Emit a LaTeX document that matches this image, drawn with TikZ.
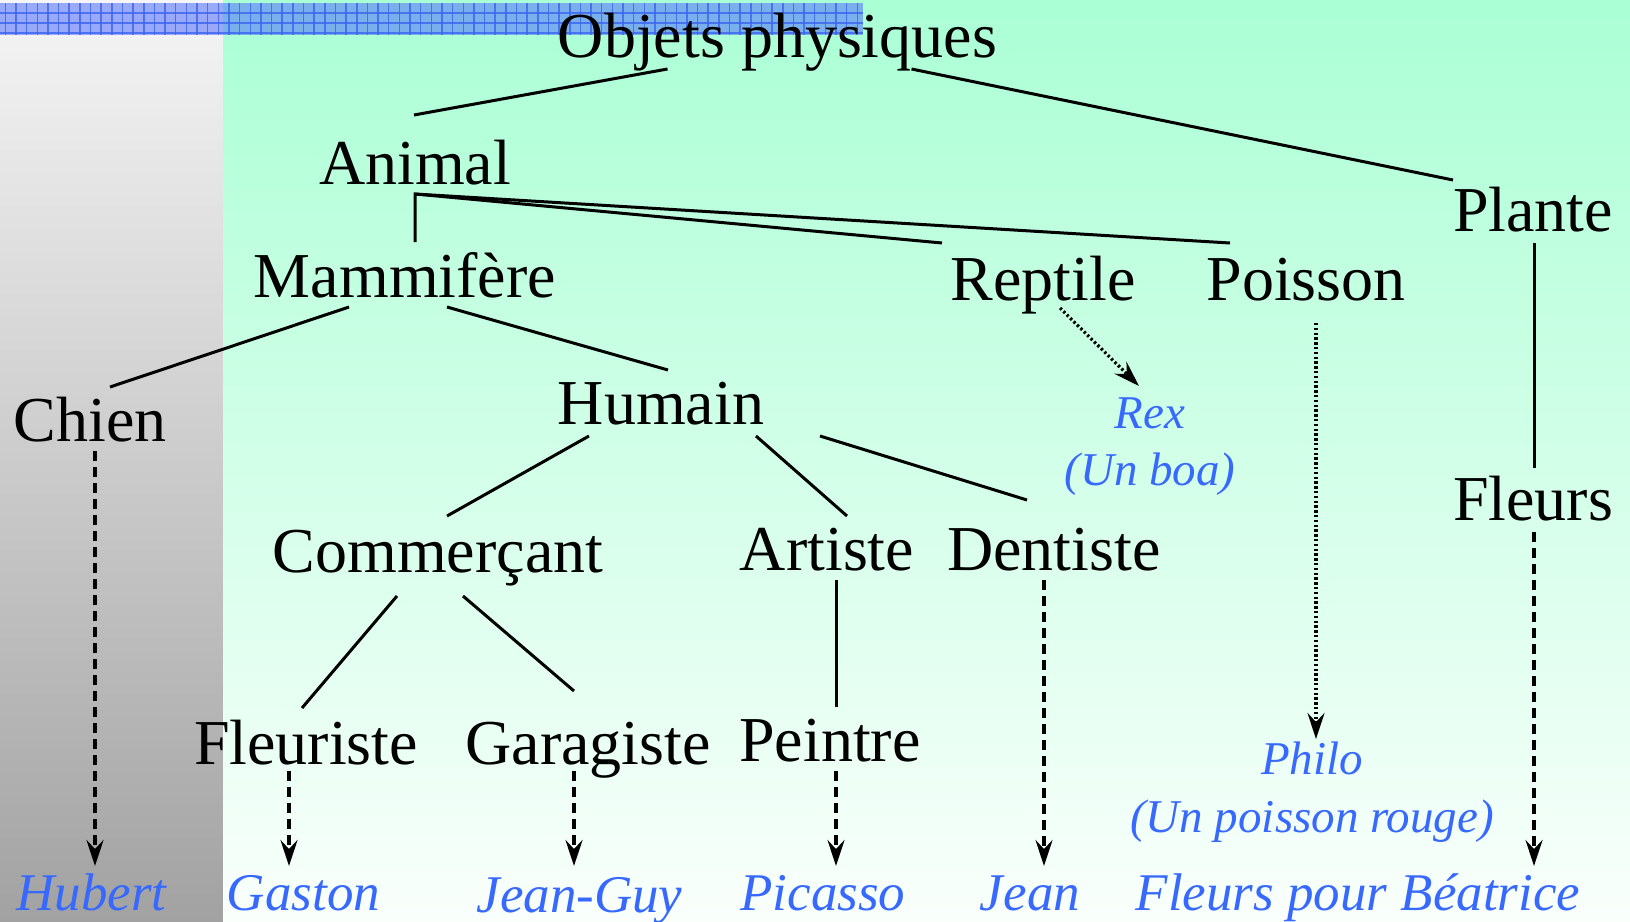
\documentclass[tikz,border=0pt]{standalone}
\usepackage{fontspec}
\setmainfont{Liberation Serif}[ItalicFont={Liberation Serif Italic}]
\usetikzlibrary{arrows.meta}
\definecolor{nameblue}{RGB}{55,105,255}
\definecolor{graytop}{RGB}{245,245,245}
\definecolor{graybot}{RGB}{162,162,162}
\definecolor{greentop}{RGB}{170,255,213}
\definecolor{greenbot}{RGB}{250,255,252}
\definecolor{barblue}{RGB}{80,110,255}
\definecolor{gridblue}{RGB}{60,100,240}
\tikzset{
  concept/.style={inner sep=0pt, anchor=base, font=\fontsize{64}{70}\selectfont},
  inst/.style={inner sep=0pt, anchor=base, text=nameblue, font=\fontsize{53}{60}\selectfont\itshape},
  note/.style={inner sep=0pt, anchor=base, text=nameblue, font=\fontsize{47}{54}\selectfont\itshape},
  link/.style={line width=3pt},
  inherit/.style={line width=3.2pt, dash pattern=on 10pt off 6pt, -{Stealth[length=26pt,width=17pt,inset=9pt]}},
  dotlink/.style={line width=3.2pt, dash pattern=on 2.4pt off 2.4pt, -{Stealth[length=26pt,width=17pt,inset=9pt]}}
}
\begin{document}
\begin{tikzpicture}[x=1pt,y=-1pt]
\useasboundingbox (0,0) rectangle (1630,921);
% backgrounds
\shade[top color=graytop, bottom color=graybot] (0,0) rectangle (223,921);
\shade[top color=greentop, bottom color=greenbot] (223,0) rectangle (1630,921);
% hatched bar
\fill[barblue, opacity=0.55] (0,3) rectangle (863,35);
\foreach \x in {5.3,15.95,...,860} \draw[gridblue, opacity=0.8, line width=1.5pt] (\x,3) -- (\x,35);
\foreach \y in {13,23,33} \draw[gridblue, opacity=0.8, line width=1.5pt] (0,\y) -- (863,\y);

% nodes
\node[concept] (obj) at (777.5,57) {Objets physiques};
\node[concept] (animal) at (415,184) {Animal};
\node[concept] (plante) at (1533,231) {Plante};
\node[concept] (mamm) at (405,297) {Mammifère};
\node[concept] (reptile) at (1043,300) {Reptile};
\node[concept] (poisson) at (1306,300) {Poisson};
\node[concept] (chien) at (90,441) {Chien};
\node[concept] (humain) at (661,424) {Humain};
\node[note] (rex) at (1150,428) {Rex};
\node[note] (rexnote) at (1150,485) {(Un boa)};
\node[concept] (fleurs) at (1533,520) {Fleurs};
\node[concept] (comm) at (438,572) {Commerçant};
\node[concept] (artiste) at (827,570) {Artiste};
\node[concept] (dentiste) at (1054,570) {Dentiste};
\node[concept] (fleuriste) at (306,764) {Fleuriste};
\node[concept] (garagiste) at (588,764) {Garagiste};
\node[concept] (peintre) at (830,761) {Peintre};
\node[note] (philo) at (1312,774) {Philo};
\node[note] (philonote) at (1312,832) {(Un poisson rouge)};
\node[inst] (hubert) at (91.5,910) {Hubert};
\node[inst] (gaston) at (303.5,910) {Gaston};
\node[inst] (jeanguy) at (579.5,912) {Jean-Guy};
\node[inst] (picasso) at (823,910) {Picasso};
\node[inst] (jean) at (1030,910) {Jean};
\node[inst] (fpb) at (1358,910) {Fleurs pour Béatrice};

% hierarchy links
\draw[link] ([shift={(-110,12)}]obj.base) -- ([shift={(-1,-69)}]animal.base);
\draw[link] ([shift={(134,12)}]obj.base) -- ([shift={(-80,-51)}]plante.base);
\draw[link] ([shift={(0,-55)}]mamm.base -| animal.base) -- ([shift={(0,10)}]animal.base) -- ([shift={(-101,-57)}]reptile.base);
\draw[link] ([shift={(0,10)}]animal.base) -- ([shift={(-76,-57)}]poisson.base);
\draw[link] ([shift={(-56,10)}]mamm.base) -- ([shift={(20,-54)}]chien.base);
\draw[link] ([shift={(42,10)}]mamm.base) -- ([shift={(7,-54)}]humain.base);
\draw[link] ([shift={(-72,12)}]humain.base) -- ([shift={(9,-56)}]comm.base);
\draw[link] ([shift={(95,12)}]humain.base) -- ([shift={(20,-54)}]artiste.base);
\draw[link] ([shift={(159,12)}]humain.base) -- ([shift={(-27,-70)}]dentiste.base);
\draw[link] ([shift={(-41,24)}]comm.base) -- ([shift={(-4,-56)}]fleuriste.base);
\draw[link] ([shift={(25,24)}]comm.base) -- ([shift={(-14,-73)}]garagiste.base);
\draw[link] ([shift={(9,10)}]artiste.base) -- ([shift={(6,-54)}]peintre.base);
\draw[link] ([shift={(1,12)}]plante.base) -- ([shift={(1,-52)}]fleurs.base);

% instance links
\draw[dotlink] ([shift={(17,8)}]reptile.base) -- ([shift={(-11,-42)}]rex.base);
\draw[dotlink] ([shift={(10,23)}]poisson.base) -- ([shift={(4,-35)}]philo.base);
\draw[inherit] ([shift={(5,10)}]chien.base) -- ([shift={(3.5,-44)}]hubert.base);
\draw[inherit] ([shift={(-17,7)}]fleuriste.base) -- ([shift={(-14.5,-44)}]gaston.base);
\draw[inherit] ([shift={(-14,7)}]garagiste.base) -- ([shift={(-5.5,-46)}]jeanguy.base);
\draw[inherit] ([shift={(6,10)}]peintre.base) -- ([shift={(13,-44)}]picasso.base);
\draw[inherit] ([shift={(-10,10)}]dentiste.base) -- ([shift={(14,-44)}]jean.base);
\draw[inherit] ([shift={(1,12)}]fleurs.base) -- ([shift={(176,-44)}]fpb.base);
\end{tikzpicture}
\end{document}
